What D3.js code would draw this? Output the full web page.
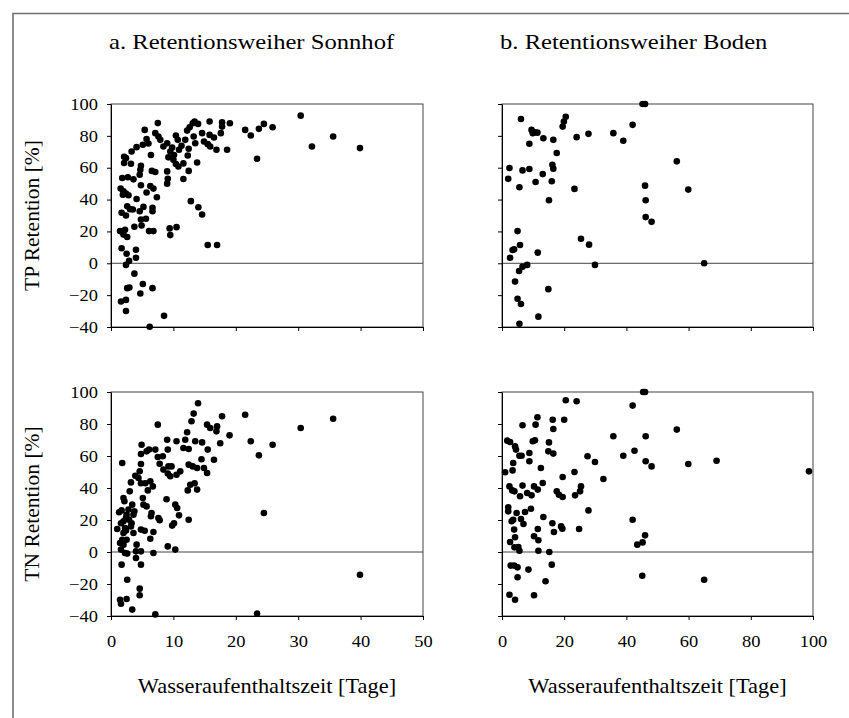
<!DOCTYPE html>
<html>

<head>
    <meta charset="utf-8">
    <style type="text/css">
        body {
            margin: 0;
            background-color: white;
        }
    </style>
    <script src="https://d3js.org/d3.v7.min.js"></script>
</head>

<body>
    <svg id="chart" width="849" height="718"></svg>
    <script>
        // TP retention [%] against residence time [days], Sonnhof pond
        var tpSonnhof = [
            [1.45, 20.2], [1.8, 19.8], [2.25, 21], [2.0, 18], [2.6, 16.5], [1.7, 9.4], [2.5, 6], [2.9, 1.5],
            [2.4, -1], [1.6, -24], [2.4, -23], [2.4, -30], [2.6, -15.6], [2.95, -15.2], [3.75, -6.5], [4.0, 8.5],
            [4.0, 3.5], [5.1, -13], [4.7, -19], [6.65, -15.6], [6.2, -39.8], [8.5, -33], [1.7, 31.7], [2.4, 30],
            [2.6, 35.8], [3.05, 34], [3.5, 33.75], [3.75, 22.9], [4.1, 40.4], [4.6, 32.7], [4.8, 27.5], [4.9, 23.75],
            [5.2, 35.4], [5.6, 28], [6.1, 20.2], [6.8, 20.2], [6.65, 34.8], [6.65, 32.7], [7.35, 41.5], [5.7, 44.4],
            [4.8, 49], [6.3, 48.5], [6.8, 46.9], [1.55, 46.9], [2.0, 45.2], [1.9, 43], [2.4, 43.75], [2.8, 42.7],
            [1.8, 53.5], [2.7, 54], [3.6, 52.7], [2.1, 66.9], [2.1, 63], [2.4, 66], [3.2, 62.5], [3.3, 70.2],
            [4.1, 72.9], [4.6, 55.6], [4.7, 58.75], [4.8, 61.25], [5.4, 83.75], [5.1, 74.4], [5.7, 78], [6.0, 75.2],
            [6.4, 68], [6.55, 58], [7.1, 57.3], [7.5, 88], [7.1, 81.7], [7.6, 79.6], [7.9, 77.5], [8.4, 73.3],
            [9.0, 75.4], [9.2, 66.5], [9.0, 57.7], [9.1, 53], [9.0, 50], [9.4, 21.9], [9.5, 17.7], [10.5, 22.7],
            [9.5, 70.2], [9.8, 72.7], [10.1, 68], [10.0, 65], [10.4, 80.2], [10.4, 62.3], [10.7, 77.5], [10.9, 71.25],
            [11.3, 73.75], [10.8, 60.8], [11.6, 62.7], [11.9, 77.5], [11.6, 52.9], [12.3, 67.7], [12.45, 71.9], [12.45, 58],
            [12.2, 83.3], [12.6, 85.4], [13.1, 87.9], [13.4, 89], [13.95, 87.5], [13.25, 79.6], [13.5, 75.4], [13.8, 63.3],
            [12.8, 39], [14.0, 35.2], [14.6, 30.6], [14.6, 81.7], [14.9, 76.5], [15.5, 74.8], [15.8, 89], [15.8, 80.6],
            [16.5, 79], [15.9, 73.3], [16.9, 71.25], [15.5, 11.5], [17.0, 11.5], [17.6, 81.7], [17.8, 88.5], [17.8, 85.8],
            [18.6, 71.25], [19.05, 87.9], [21.5, 83.75], [22.4, 80.2], [23.4, 65.6], [23.7, 84.4], [24.5, 87.5], [25.9, 85.4],
            [30.4, 92.7], [32.2, 73.3], [35.6, 79.6], [39.9, 72.3]
        ];

        // TP retention, Boden pond
        var tpBoden = [
            [2.4, 59.8], [2.0, 53], [2.6, 3.5], [3.4, 8.3], [3.9, 8.75], [5.0, 20.2], [5.8, 11.5], [4.2, -11.5],
            [5.5, -4.8], [6.6, -2.1], [8.1, -1], [5.0, -22.3], [6.1, -25.6], [5.6, -38], [6.1, 90.6], [6.6, 58.3],
            [5.6, 47.7], [8.8, 59.2], [8.8, 75], [9.5, 83.75], [9.9, 81.7], [10.6, 82.3], [11.4, 82], [10.8, 51],
            [11.5, 6.7], [11.7, -33.5], [13.1, 56], [13.3, 78.5], [15.1, 39.6], [14.9, -16.25], [16.2, 61.9], [16.5, 59.4],
            [16.0, 51.5], [16.5, 77.5], [17.6, 69.2], [19.5, 85.8], [19.9, 89], [20.5, 92], [23.3, 46.7], [24.0, 79.2],
            [25.4, 15.4], [27.8, 81.25], [28.0, 11.7], [29.9, -1], [35.8, 81.7], [39.0, 76.9], [42.0, 86.9], [45.2, 100],
            [46.0, 100], [46.0, 48.75], [46.2, 39.6], [46.2, 29], [48.1, 26], [56.2, 64], [59.9, 46.25], [65.0, 0]
        ];

        // TN retention, Sonnhof pond
        var tnSonnhof = [
            [1.8, 55.6], [1.0, 14.4], [1.3, 24.8], [1.7, 26], [1.45, 5.6], [1.6, 1.5], [1.8, 7.7], [2.0, 11.9],
            [1.6, 18], [2.0, 19.2], [2.25, 15], [2.4, 21.25], [2.5, 23.3], [2.8, 26.5], [2.9, 20.2], [3.3, 18],
            [3.6, 23.3], [3.75, 25.4], [3.2, 16], [2.4, 13.5], [2.5, 7.7], [2.0, 4.6], [2.25, -0.6], [2.6, -1],
            [1.7, -7.9], [2.6, -17.3], [1.45, -29.8], [1.6, -32.3], [2.5, -29.4], [3.4, -36], [7.1, -39], [23.4, -38.5],
            [39.9, -14.2], [4.1, 4.6], [4.0, 0.4], [4.0, -3.75], [4.8, 0.4], [4.8, -7.9], [4.6, -22.9], [4.6, -27],
            [6.8, -0.6], [6.3, 8.3], [6.8, 12.5], [4.8, 14], [5.4, 13.3], [3.6, 11.9], [2.0, 33.75], [2.15, 31.7],
            [3.4, 29.6], [3.0, 37.9], [3.2, 43.5], [3.9, 47.7], [4.4, 46.25], [4.6, 50.4], [4.8, 43], [4.8, 55],
            [4.8, 61.25], [4.9, 67], [5.1, 33.75], [5.2, 29.6], [5.5, 43], [5.7, 28.5], [5.7, 62.9], [5.9, 38.5],
            [6.1, 64], [6.3, 44.2], [6.5, 24.4], [6.4, 22.3], [6.7, 41], [7.1, 64], [7.5, 79.6], [7.5, 59.4],
            [7.8, 55.2], [7.6, 21.25], [7.8, 19.8], [8.3, 59.8], [8.4, 51.5], [8.9, 33], [9.1, 49], [9.2, 53.5],
            [9.1, 64], [9.0, 70.2], [9.1, 3.5], [9.7, 53.5], [9.5, 47.3], [9.8, 16.5], [10.1, 18], [10.3, 1.5],
            [10.3, 29.6], [10.6, 27.5], [10.5, 69.2], [10.9, 22.9], [10.5, 48.3], [11.1, 50.4], [11.6, 65], [11.9, 70.2],
            [12.2, 74.8], [12.45, 64.4], [12.45, 54.6], [12.3, 38.5], [12.45, 20.2], [12.7, 42], [12.9, 81.7], [13.1, 53.5],
            [13.25, 86.5], [13.4, 43], [13.5, 69.2], [13.8, 39], [13.95, 93], [13.8, 52.5], [14.6, 68.5], [14.5, 58],
            [14.9, 52.5], [15.4, 49.4], [15.5, 64], [15.4, 79.6], [15.9, 77.5], [16.5, 57.7], [17.0, 78.5], [16.9, 75.4],
            [17.5, 68], [17.8, 84.8], [19.0, 72.9], [21.5, 85.8], [22.4, 69.2], [23.7, 60.4], [24.5, 24.4], [25.9, 67],
            [30.4, 77.5], [35.6, 83.3]
        ];

        // TN retention, Boden pond
        var tnBoden = [
            [1.0, 49.8], [1.7, 69.6], [2.6, 68.75], [2.4, 41], [3.3, 38.5], [4.0, 37.9], [2.0, 27.9], [2.0, 25.4],
            [3.1, 19.2], [3.6, 20.2], [3.9, 14], [2.6, 6.25], [4.0, 2.9], [4.2, 9.2], [5.25, 3.1], [5.6, 0.8],
            [2.8, -8.5], [3.9, -8.5], [5.0, -9.6], [5.0, -15.8], [2.4, -26.7], [4.2, -29.8], [10.3, -27], [14.0, -18.3],
            [8.5, -11], [16.0, -7.9], [15.2, 0], [11.7, 0.8], [4.7, 24.4], [6.1, 20.6], [6.9, 17.5], [7.4, 25],
            [9.3, 27], [10.3, 9.8], [11.5, 14.4], [11.7, 7.3], [13.3, 21.9], [16.2, 18], [16.7, 12.5], [19.0, 16],
            [19.4, 14.6], [24.8, 14.4], [27.8, 26], [5.8, 34.8], [6.6, 41.5], [8.1, 36.9], [9.5, 35.4], [10.3, 41],
            [11.5, 39], [13.1, 43.1], [17.6, 37.9], [18.3, 35.8], [19.5, 34.4], [23.5, 35.4], [25.1, 37.9], [25.4, 41],
            [19.5, 46.9], [23.3, 50], [32.6, 45.6], [3.4, 51], [3.6, 55.6], [4.2, 66], [4.5, 64], [5.6, 60.2],
            [6.3, 60.2], [8.8, 56.7], [8.8, 61.9], [9.9, 69.2], [10.6, 69.8], [12.5, 52.5], [14.9, 62.9], [16.5, 61.5],
            [15.1, 68.5], [6.6, 79.2], [10.8, 79.6], [11.4, 84.2], [16.3, 82.7], [16.5, 76.9], [20.0, 82.7], [20.5, 94.8],
            [24.0, 94.2], [27.5, 59.8], [29.9, 56.25], [35.8, 72.3], [39.0, 60.2], [42.0, 91.5], [42.0, 20.2], [42.6, 63.3],
            [43.5, 4.6], [45.2, 6], [46.0, 10.4], [45.1, -14.8], [45.4, 100], [46.0, 100], [46.2, 72.3], [46.2, 56.7],
            [48.1, 53.5], [56.2, 76.5], [59.9, 55], [65.0, -17.3], [69.0, 57], [98.7, 50.4]
        ];

        var titles = ["a. Retentionsweiher Sonnhof", "b. Retentionsweiher Boden"];
        var yTitles = ["TP Retention [%]", "TN Retention [%]"];
        var xTitle = "Wasseraufenthaltszeit [Tage]";
        var yTicks = [-40, -20, 0, 20, 40, 60, 80, 100];
        var xTicksSonnhof = [0, 10, 20, 30, 40, 50];
        var xTicksBoden = [0, 20, 40, 60, 80, 100];

        var serif = "'Liberation Serif', 'Times New Roman', 'DejaVu Serif', serif";
        // the original figure is slightly stretched sideways, so is its text
        var stretch = 1.12;

        var svg = d3.select("#chart");

        // outer frame (only top and left edges are inside the picture)
        svg.append("path")
            .attr("d", "M13,718V13.5H849")
            .attr("fill", "none")
            .attr("stroke", "#6e6e6e")
            .attr("stroke-width", 1.6);

        var xSonnhof = d3.scaleLinear().domain([0, 50]).range([111, 423]);
        var xBoden = d3.scaleLinear().domain([0, 100]).range([502, 813]);
        var yTop = d3.scaleLinear().domain([-40, 100]).range([327, 104]);
        var yBottom = d3.scaleLinear().domain([-40, 100]).range([616, 392]);

        var panels = [
            { data: tpSonnhof, x: xSonnhof, y: yTop, xTicks: xTicksSonnhof, yLabels: true, xLabels: false },
            { data: tpBoden, x: xBoden, y: yTop, xTicks: xTicksBoden, yLabels: false, xLabels: false },
            { data: tnSonnhof, x: xSonnhof, y: yBottom, xTicks: xTicksSonnhof, yLabels: true, xLabels: true },
            { data: tnBoden, x: xBoden, y: yBottom, xTicks: xTicksBoden, yLabels: false, xLabels: true }
        ];

        function stretchText(sel, fontSize) {
            sel.each(function () {
                var t = d3.select(this);
                var x = +t.attr("x") || 0;
                t.attr("x", 0)
                    .attr("transform", "translate(" + x + ",0) scale(" + stretch + ",1)")
                    .style("font-family", serif)
                    .style("font-size", fontSize + "px")
                    .attr("fill", "#000");
            });
        }

        panels.forEach(function (p) {
            var g = svg.append("g");
            var x0 = p.x.range()[0], x1 = p.x.range()[1];
            var y0 = p.y.range()[1], y1 = p.y.range()[0];

            // plot area frame
            g.append("rect")
                .attr("x", x0).attr("y", y0)
                .attr("width", x1 - x0).attr("height", y1 - y0)
                .attr("fill", "none")
                .attr("stroke", "#444")
                .attr("stroke-width", 1);

            // zero line
            g.append("line")
                .attr("x1", x0).attr("x2", x1)
                .attr("y1", p.y(0)).attr("y2", p.y(0))
                .attr("stroke", "#444")
                .attr("stroke-width", 1);

            var yAxis = d3.axisLeft(p.y).tickValues(yTicks).tickSize(4).tickSizeOuter(0).tickPadding(9)
                .tickFormat(p.yLabels ? d3.format("d") : function () { return ""; });
            var ya = g.append("g").attr("transform", "translate(" + x0 + ",0)").call(yAxis);

            var xAxis = d3.axisBottom(p.x).tickValues(p.xTicks).tickSize(4).tickSizeOuter(0).tickPadding(15)
                .tickFormat(p.xLabels ? d3.format("d") : function () { return ""; });
            var xa = g.append("g").attr("transform", "translate(0," + y1 + ")").call(xAxis);

            [ya, xa].forEach(function (a) {
                a.attr("font-family", serif).attr("font-size", null);
                a.selectAll("path, line").attr("stroke", "#000");
                stretchText(a.selectAll("text"), 16.5);
            });

            g.selectAll("circle")
                .data(p.data)
                .enter()
                .append("circle")
                .attr("cx", function (d) { return p.x(d[0]); })
                .attr("cy", function (d) { return p.y(d[1]); })
                .attr("r", 3.3)
                .attr("fill", "#000");
        });

        // panel titles
        svg.selectAll(".title")
            .data(titles)
            .enter()
            .append("text")
            .attr("class", "title")
            .attr("transform", function (d, i) {
                var x = i === 0 ? 109 : 500;
                return "translate(" + x + ",49) scale(" + stretch + ",1)";
            })
            .style("font-family", serif)
            .style("font-size", "22px")
            .text(function (d) { return d; });

        // y axis titles
        svg.selectAll(".ytitle")
            .data(yTitles)
            .enter()
            .append("text")
            .attr("class", "ytitle")
            .attr("transform", function (d, i) {
                var y = i === 0 ? (yTop(-40) + yTop(100)) / 2 : (yBottom(-40) + yBottom(100)) / 2;
                return "translate(39," + y + ") rotate(-90)";
            })
            .attr("text-anchor", "middle")
            .style("font-family", serif)
            .style("font-size", "21.5px")
            .text(function (d) { return d; });

        // x axis titles
        [xSonnhof, xBoden].forEach(function (sc) {
            var cx = (sc.range()[0] + sc.range()[1]) / 2;
            svg.append("text")
                .attr("transform", "translate(" + cx + ",693) scale(" + stretch + ",1)")
                .attr("text-anchor", "middle")
                .style("font-family", serif)
                .style("font-size", "20px")
                .text(xTitle);
        });
    </script>
</body>

</html>
